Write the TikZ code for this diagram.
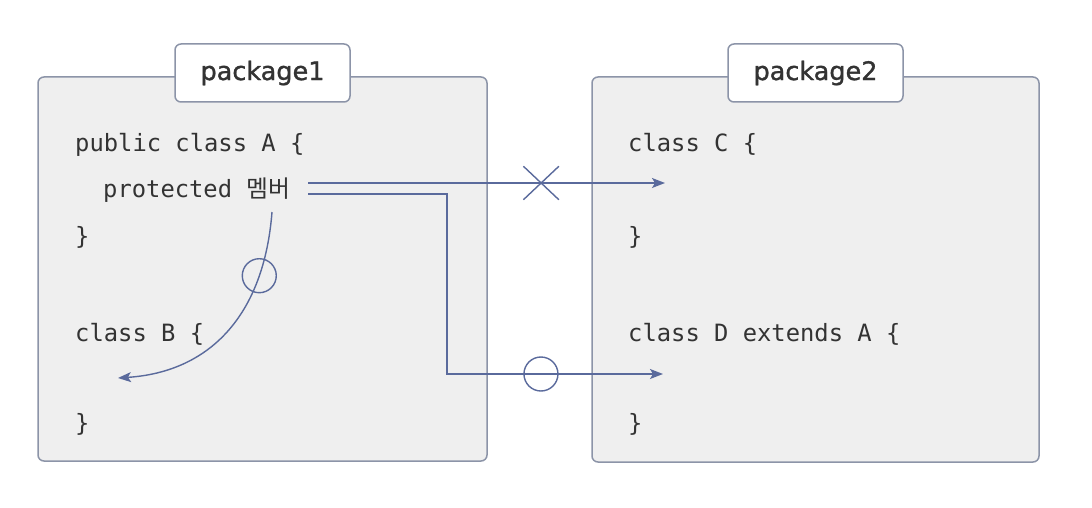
\documentclass[tikz,border=0pt]{standalone}
\usepackage{fontspec}
\usepackage{tikz}
\usepackage{xcolor}
\setmainfont{DejaVu Sans}
\setmonofont{DejaVu Sans Mono}
\newfontfamily\krfont{Noto Sans CJK KR}
\newfontfamily\tabfont[FakeBold=1.2]{DejaVu Sans}
\usetikzlibrary{shapes.misc}
\usetikzlibrary{positioning, arrows.meta}

\definecolor{framecol}{HTML}{8C94A8}
\definecolor{fillcol}{HTML}{EFEFEF}
\definecolor{linkcol}{HTML}{5A6A9C}
\definecolor{textcol}{HTML}{333333}

\begin{document}
\begin{tikzpicture}[x=1pt, y=-1pt]
    % Styles for the frames, the tabs, the code lines and the links
    \tikzstyle{pkgframe}=[draw=framecol, fill=fillcol, line width=1.5pt, rounded corners=6pt, inner sep=0pt];
    \tikzstyle{pkgtab}=[draw=framecol, fill=white, line width=1.5pt, rounded corners=6pt, minimum width=175pt, minimum height=58pt, inner sep=0pt, text=textcol, font=\tabfont\fontsize{25.5}{30}\selectfont];
    \tikzstyle{code}=[anchor=base west, inner sep=0pt, text=textcol, font=\ttfamily\fontsize{23.8}{28}\selectfont];
    \tikzstyle{link}=[draw=linkcol, line width=1.4pt, -{Stealth[length=13pt, width=10pt, inset=3pt]}];
    \tikzstyle{okmark}=[draw=linkcol, line width=1.4pt, circle, minimum size=34pt, inner sep=0pt];
    \tikzstyle{nomark}=[draw=linkcol, line width=1.4pt, cross out, minimum width=34pt, minimum height=32pt, inner sep=0pt];

    \useasboundingbox[fill=white] (0,0) rectangle (1092,508);

    % Frames of package1 and package2
    \node[pkgframe, minimum width=449pt, minimum height=384pt] (pkg1) at (262.5,269) {};
    \node[pkgframe, minimum width=447pt, minimum height=385pt] (pkg2) at (815.5,269.5) {};
    \node[pkgtab] (pkg1-tab) at (262.5,73) {package1};
    \node[pkgtab] (pkg2-tab) at (815.5,73) {package2};

    % Code in package1
    \node[code] (classA) at (75,152) {public class A \{};
    \node[code] (member) at (103,197) {protected {\krfont 멤버}};
    \node[code] (endA) at (75,244) {\}};
    \node[code] (classB) at (75,341) {class B \{};
    \node[code] (endB) at (75,431) {\}};

    % Code in package2
    \node[code] (classC) at (628,152) {class C \{};
    \node[code] (endC) at (628,244) {\}};
    \node[code] (classD) at (628,341) {class D extends A \{};
    \node[code] (endD) at (628,431) {\}};

    % Ends of the links
    \coordinate (outC) at (308,183);
    \coordinate (outD) at (308,194);
    \coordinate (outB) at (272,212);
    \coordinate (inC) at (665,183);
    \coordinate (inD) at (663,374);
    \coordinate (inB) at (118,378);
    \coordinate (bend) at (447,374);

    % Links from the protected member
    \draw[link] (outC) -- node[nomark, pos=0.653] {} (inC);
    \draw[link] (outD) -| (bend) -- node[okmark, pos=0.435] {} (inD);
    \draw[link] (outB) .. controls (264,315) and (210,372) .. node[okmark, pos=0.23] {} (inB);
\end{tikzpicture}
\end{document}
